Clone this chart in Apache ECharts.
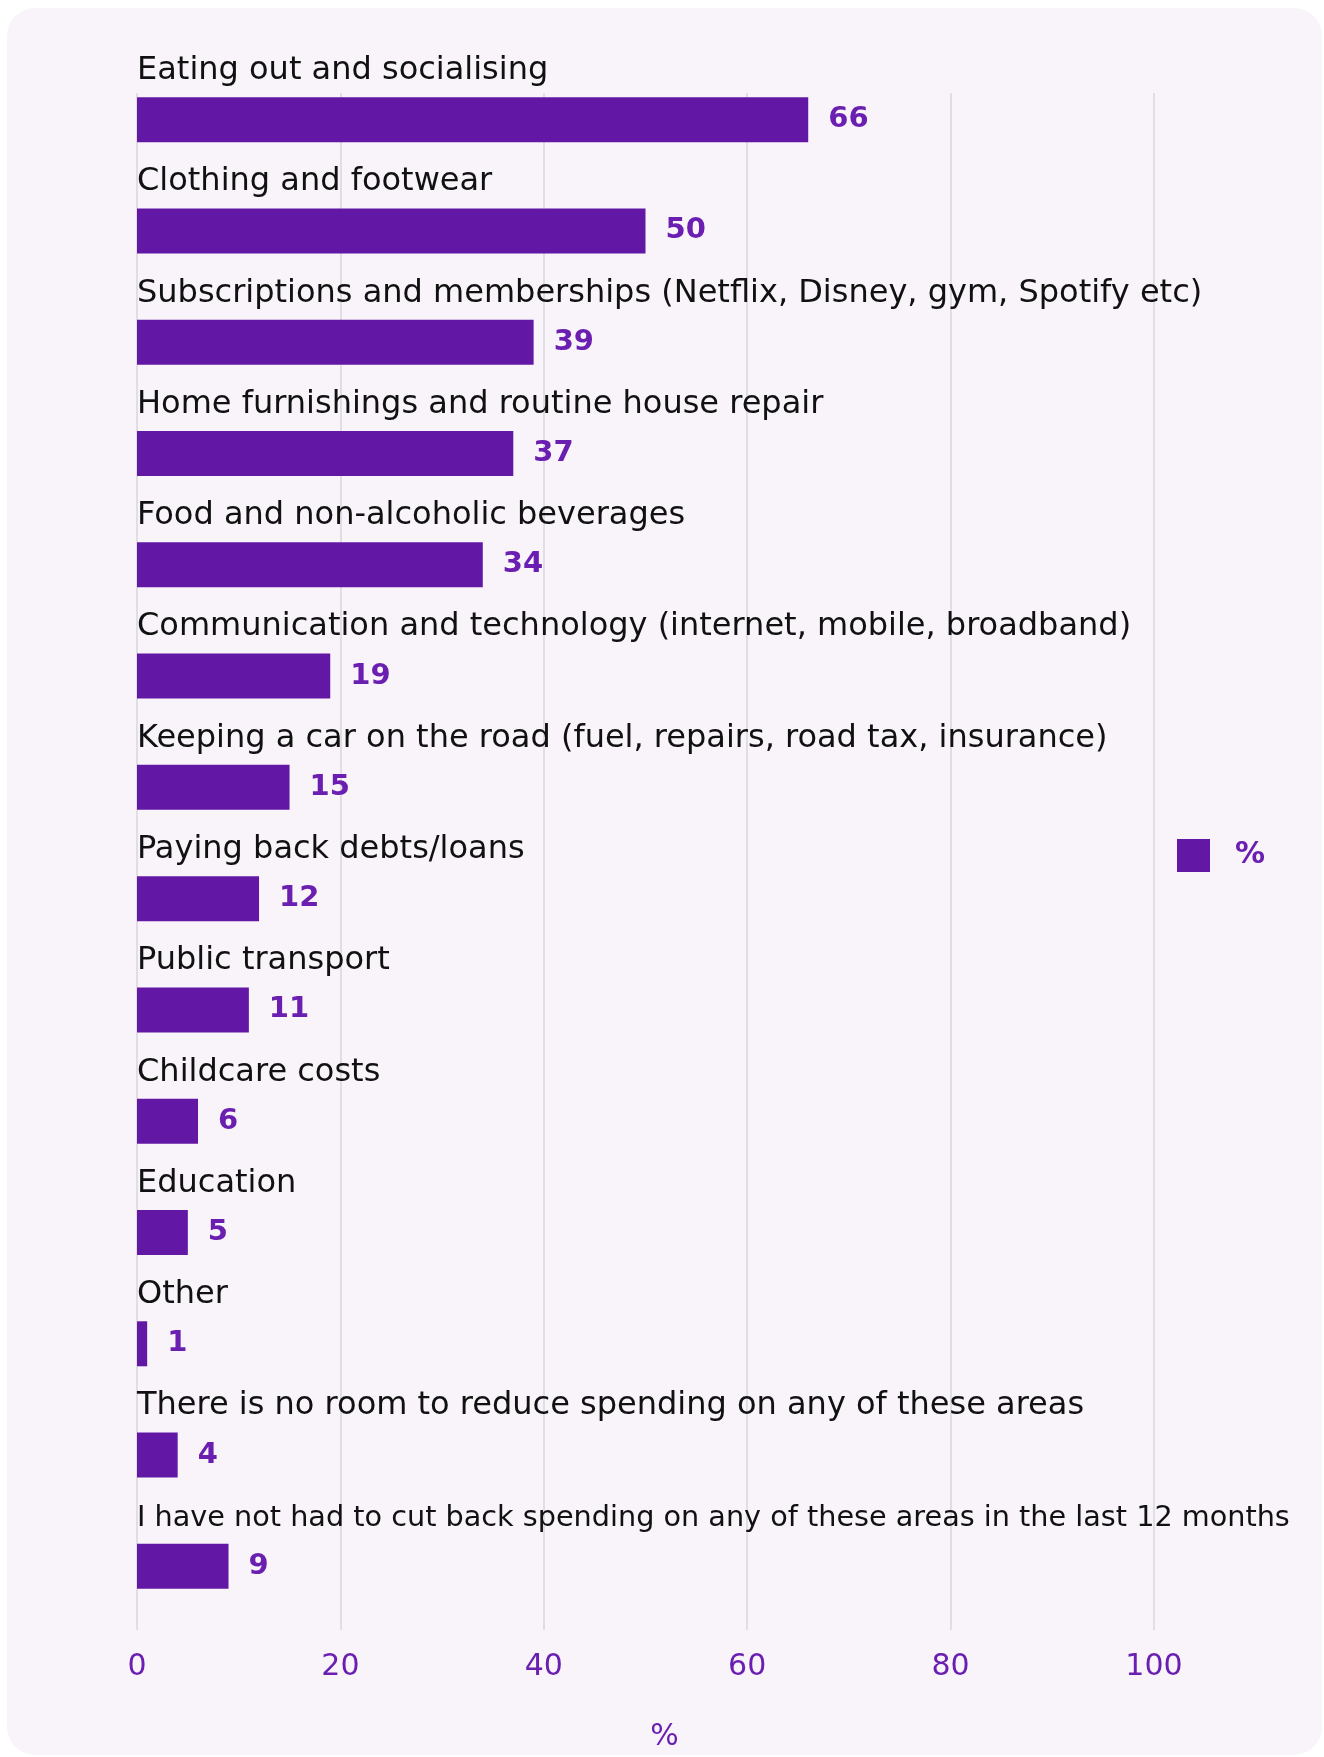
<!DOCTYPE html>
<html>
<head>
<meta charset="utf-8">
<script src="https://cdn.jsdelivr.net/npm/echarts@6/dist/echarts.min.js"></script>
<style>
  html, body { margin: 0; padding: 0; background: #ffffff; }
  #card {
    position: absolute; left: 7px; top: 8px; width: 1315px; height: 1747px;
    background: #f8f4fa; border-radius: 28px;
  }
  #chart { position: absolute; left: 0; top: 0; width: 1324px; height: 1757px; }
</style>
</head>
<body>
<div id="card"></div>
<div id="chart"></div>
<script>
// Areas where spending was cut back (share of respondents, %)
const categories = [
  'Eating out and socialising',
  'Clothing and footwear',
  'Subscriptions and memberships (Netflix, Disney, gym, Spotify etc)',
  'Home furnishings and routine house repair',
  'Food and non-alcoholic beverages',
  'Communication and technology (internet, mobile, broadband)',
  'Keeping a car on the road (fuel, repairs, road tax, insurance)',
  'Paying back debts/loans',
  'Public transport',
  'Childcare costs',
  'Education',
  'Other',
  'There is no room to reduce spending on any of these areas',
  'I have not had to cut back spending on any of these areas in the last 12 months'
];
const values = [66, 50, 39, 37, 34, 19, 15, 12, 11, 6, 5, 1, 4, 9];
const xTicks = [0, 20, 40, 60, 80, 100];
const seriesName = '%';

const FONT = '"DejaVu Sans", sans-serif';
const PURPLE = '#6318a5';
const LABEL_PURPLE = '#6a1fb0';

const chart = echarts.init(document.getElementById('chart'));

chart.setOption({
  backgroundColor: 'transparent',
  animation: false,
  textStyle: { fontFamily: FONT },
  legend: {
    data: [seriesName],
    left: 1172, top: 834,
    orient: 'vertical',
    itemWidth: 33, itemHeight: 33, itemGap: 10,
    icon: 'rect',
    textStyle: { color: LABEL_PURPLE, fontSize: 30, fontWeight: 600, fontFamily: FONT, padding: [0, 0, 0, 20] }
  },
  grid: [
    // grid holding the bars and the category texts
    { left: 137, right: 170, top: 64, height: 1558 },
    // grid holding the value axis, its gridlines and tick labels
    { left: 137, right: 170, top: 93, bottom: 117 }
  ],
  xAxis: [
    {
      gridIndex: 0, type: 'value', min: 0, max: 100, interval: 20,
      show: false
    },
    {
      gridIndex: 1, type: 'value', min: xTicks[0], max: xTicks[xTicks.length - 1],
      interval: xTicks[1] - xTicks[0],
      axisLine: { show: false }, axisTick: { show: false },
      splitLine: { show: true, lineStyle: { color: '#d9d6de', width: 1.5 } },
      axisLabel: {
        color: LABEL_PURPLE, fontSize: 30, margin: 22, fontFamily: FONT,
        formatter: v => xTicks.includes(v) ? String(v) : ''
      },
      name: '%', nameLocation: 'middle', nameGap: 92,
      nameTextStyle: { color: LABEL_PURPLE, fontSize: 30, fontFamily: FONT, padding: [0, 0, 0, 38] }
    }
  ],
  yAxis: [
    {
      gridIndex: 0, type: 'category', data: categories, inverse: true,
      axisLine: { show: false }, axisTick: { show: false }, splitLine: { show: false },
      axisLabel: {
        inside: true, margin: 0, align: 'left', verticalAlign: 'bottom',
        color: '#111111', fontSize: 32, fontFamily: FONT,
        padding: [0, 0, 33, 0],
        // the longest answer is set a little tighter so it fits the panel
        formatter: (v, i) => i === categories.length - 1 ? '{tight|' + v + '}' : v,
        rich: {
          tight: { fontSize: 28.7, color: '#111111', fontFamily: FONT }
        }
      }
    },
    {
      gridIndex: 1, type: 'category', data: categories, show: false
    }
  ],
  series: [
    {
      name: seriesName, type: 'bar', xAxisIndex: 0, yAxisIndex: 0,
      data: values, barWidth: 45,
      itemStyle: { color: PURPLE },
      label: {
        show: true, position: 'right', distance: 20,
        color: LABEL_PURPLE, fontSize: 29, fontWeight: 'bold', fontFamily: FONT
      }
    }
  ]
});
</script>
</body>
</html>
